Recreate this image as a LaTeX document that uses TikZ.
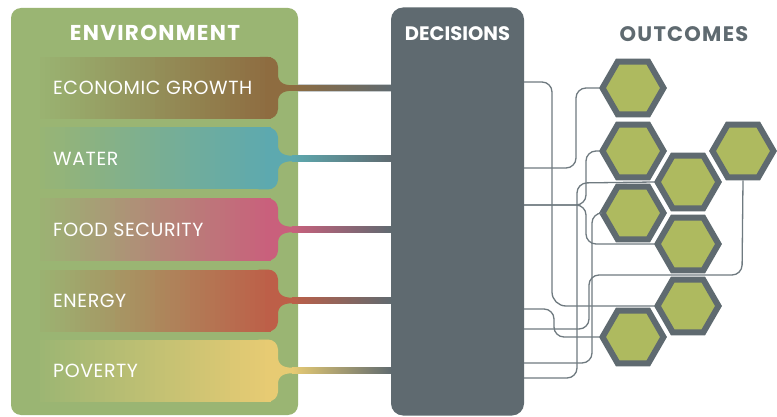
\documentclass[tikz,border=0pt]{standalone}
\usepackage{fontspec}
\setmainfont{Poppins}
\usetikzlibrary{shapes.geometric}
\definecolor{envgreen}{HTML}{9AB573}
\definecolor{ecocol}{HTML}{8E6C40}
\definecolor{watcol}{HTML}{5DA9AF}
\definecolor{foodcol}{HTML}{C9607C}
\definecolor{enecol}{HTML}{BD5F48}
\definecolor{povcol}{HTML}{E7CB73}
\definecolor{decgray}{HTML}{5F6A70}
\definecolor{hexfill}{HTML}{AEBA5F}
\definecolor{linegray}{HTML}{6F7A80}
\definecolor{edgegray}{HTML}{C6CBCD}
\begin{document}
\begin{tikzpicture}[x=1pt,y=-1pt,
  envbox/.style={fill=envgreen, rounded corners=10pt, minimum width=287pt, minimum height=407pt, inner sep=0pt},
  decbox/.style={fill=decgray, rounded corners=12pt, minimum width=133pt, minimum height=408pt, inner sep=0pt},
  ttl/.style={inner sep=0pt},
  lbl/.style={font=\fontsize{19}{19}\selectfont\addfontfeatures{LetterSpace=3}, text=white, inner sep=0pt, anchor=west},
  hexa/.style={regular polygon, regular polygon sides=6, minimum size=61pt, inner sep=0pt,
    draw=decgray, line width=6pt, fill=hexfill, preaction={draw=white, line width=11pt}},
  conn/.style={draw=linegray, line width=1.3pt, rounded corners=10pt},
  neckedge/.style={draw=edgegray, line width=0.8pt}
]
\useasboundingbox (0,0) rectangle (777,417);
\fill[white] (0,0) rectangle (777,417);

\node[envbox] (env) at (154.5,211.5) {};

\foreach \cy/\col/\txt/\nm in {88/ecocol/ECONOMIC GROWTH/eco, 158.5/watcol/WATER/wat, 229.5/foodcol/FOOD SECURITY/food, 300.5/enecol/ENERGY/ene, 370.5/povcol/POVERTY/pov} {
  \fill[\col, rounded corners=10pt] (250,\cy-31) rectangle (278,\cy+31);
  \foreach \k in {0,...,45} {
    \pgfmathtruncatemacro{\pct}{4+\k*96/45}
    \fill[\col!\pct!envgreen] (40+\k*5,\cy-31) rectangle (45.7+\k*5,\cy+31);
  }
  \fill[\col] (277,\cy-21) .. controls (277,\cy-6) and (281,\cy-2.7) .. (294,\cy-2.7) -- (294,\cy+2.7) .. controls (281,\cy+2.7) and (277,\cy+6) .. (277,\cy+21) -- cycle;
  \draw[neckedge] (298,\cy-3.2) -- (391,\cy-3.2) (298,\cy+3.2) -- (391,\cy+3.2);
  \fill[left color=\col, right color=decgray] (292,\cy-2.8) rectangle (392,\cy+2.8);
  \node[lbl] (\nm) at (53,\cy) {\txt};
}

\node[decbox] (dec) at (457.5,211.5) {};

\node[ttl, text=white, font=\bfseries\fontsize{21.5}{21.5}\selectfont\addfontfeatures{LetterSpace=6}] (envt) at (155,33) {ENVIRONMENT};
\node[ttl, text=white, font=\bfseries\fontsize{19.5}{19.5}\selectfont] (dect) at (457.5,34) {DECISIONS};
\node[ttl, text=decgray, font=\bfseries\fontsize{21}{21}\selectfont\addfontfeatures{LetterSpace=6}] (outt) at (684,34) {OUTCOMES};

\node[hexa] (h1) at (633,88) {};
\node[hexa] (h2) at (633,151) {};
\node[hexa] (h3) at (688,182) {};
\node[hexa] (h4) at (743,151) {};
\node[hexa] (h5) at (633,213) {};
\node[hexa] (h6) at (688,244) {};
\node[hexa] (h7) at (688,306) {};
\node[hexa] (h8) at (633,337) {};

\coordinate (d82) at (524,82);
\coordinate (d168) at (524,168);
\coordinate (d205) at (524,205);
\coordinate (d308) at (524,309);
\coordinate (d329) at (524,329);
\coordinate (d363) at (524,363);
\coordinate (d378) at (524,378);

\draw[conn] (d82) -- (552,82) [rounded corners=14pt] -- (552,306) -- (h7.west);
\draw[conn] (d168) -- (576,168) -- (576,88) -- (h1.west);
\draw[conn] (d205) -- (586,205) -- (586,151) -- (h2.west);
\draw[conn] (d205) -- (586,205) -- (586,244) -- (h6.west);
\draw[conn] (d378) -- (577,378) -- (577,183) -- (h3.west);
\draw[conn] (d363) -- (592,363) -- (592,213) -- (h5.west);
\draw[conn] (d329) -- (589,329) -- (589,275) -- (742,275) -- (h4.south);
\draw[conn] (d308) -- (554,309) -- (554,337) -- (h8.west);
\end{tikzpicture}
\end{document}
